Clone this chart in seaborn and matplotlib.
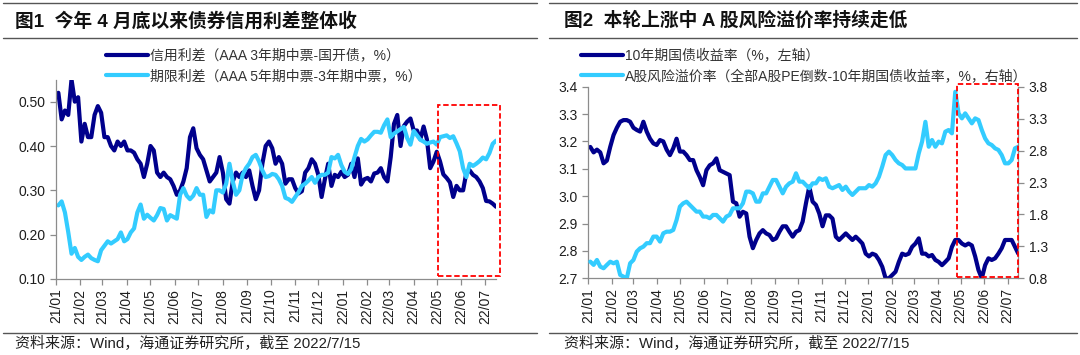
import pandas as pd
import matplotlib
matplotlib.use("Agg")
import matplotlib.pyplot as plt
import matplotlib.dates as mdates
from matplotlib.lines import Line2D
from matplotlib.patches import Rectangle
from matplotlib.ticker import FormatStrFormatter
import seaborn as sns

# 图1: 信用利差 / 期限利差 (%), 2021-01-04 .. 2022-07-15, evenly spaced samples
credit_spread = [
    0.52, 0.46, 0.48, 0.47, 0.55, 0.50, 0.51, 0.41, 0.45, 0.42,
    0.42, 0.47, 0.49, 0.475, 0.42, 0.42, 0.40, 0.39, 0.41, 0.40,
    0.41, 0.39, 0.39, 0.385, 0.37, 0.36, 0.33, 0.36, 0.40, 0.39,
    0.34, 0.33, 0.34, 0.33, 0.325, 0.31, 0.29, 0.30, 0.32, 0.35,
    0.42, 0.44, 0.395, 0.38, 0.37, 0.345, 0.32, 0.33, 0.34, 0.375,
    0.34, 0.28, 0.27, 0.32, 0.34, 0.33, 0.34, 0.33, 0.345, 0.31,
    0.28, 0.30, 0.36, 0.40, 0.41, 0.395, 0.36, 0.375,
    0.36, 0.315, 0.325, 0.325, 0.305, 0.293, 0.298, 0.34, 0.35, 0.37,
    0.36, 0.335, 0.285, 0.325, 0.36, 0.31, 0.335, 0.33, 0.342, 0.33,
    0.335, 0.36, 0.33, 0.372, 0.313, 0.325, 0.328, 0.32, 0.338, 0.34,
    0.35, 0.33, 0.32, 0.375, 0.45, 0.47, 0.40, 0.445, 0.455, 0.462,
    0.435, 0.435, 0.415, 0.444, 0.415, 0.35, 0.365, 0.387, 0.365, 0.336,
    0.328, 0.318, 0.285, 0.31, 0.30, 0.30, 0.34, 0.345, 0.335, 0.33,
    0.32, 0.305, 0.276, 0.275, 0.27, 0.263,
]
term_spread = [
    0.266, 0.275, 0.25, 0.206, 0.157, 0.17, 0.15, 0.143, 0.15, 0.155,
    0.147, 0.143, 0.14, 0.165, 0.175, 0.185, 0.18, 0.185, 0.19, 0.205,
    0.185, 0.19, 0.205, 0.214, 0.25, 0.268, 0.236, 0.245, 0.238, 0.232,
    0.244, 0.26, 0.258, 0.232, 0.244, 0.24, 0.236, 0.29, 0.305, 0.288,
    0.28, 0.288, 0.305, 0.29, 0.29, 0.24, 0.255, 0.25, 0.30, 0.30,
    0.295, 0.315, 0.36, 0.32, 0.29, 0.30, 0.335, 0.35, 0.36, 0.375,
    0.38, 0.365, 0.345, 0.33, 0.332, 0.337, 0.335, 0.325,
    0.31, 0.283, 0.28, 0.274, 0.285, 0.296, 0.31, 0.315, 0.322, 0.33,
    0.317, 0.33, 0.335, 0.335, 0.34, 0.375, 0.372, 0.38, 0.357, 0.342,
    0.337, 0.348, 0.375, 0.40, 0.416, 0.41, 0.415, 0.424, 0.432, 0.432,
    0.43, 0.447, 0.46, 0.42, 0.428, 0.433, 0.438, 0.443, 0.418, 0.403,
    0.434, 0.424, 0.414, 0.41, 0.405, 0.408, 0.41, 0.403, 0.42, 0.422,
    0.424, 0.418, 0.422, 0.406, 0.388, 0.35, 0.33, 0.36, 0.355, 0.36,
    0.366, 0.374, 0.37, 0.384, 0.405, 0.412,
]

# 图2: 10年期国债收益率 (左轴) / A股风险溢价率 (右轴)
bond_yield = [
    3.18, 3.16, 3.17, 3.16, 3.12, 3.13, 3.18, 3.223, 3.25, 3.272,
    3.278, 3.278, 3.272, 3.25, 3.242, 3.236, 3.272, 3.236, 3.21, 3.193,
    3.187, 3.205, 3.2, 3.17, 3.15, 3.175, 3.21, 3.163, 3.163, 3.15,
    3.132, 3.132, 3.095, 3.07, 3.04, 3.095, 3.113, 3.12, 3.138, 3.095,
    3.089, 3.083, 3.077, 2.98, 2.974, 2.925, 2.943, 2.937, 2.852, 2.81,
    2.84, 2.864, 2.876, 2.864, 2.858, 2.84, 2.846, 2.87, 2.89, 2.89,
    2.87, 2.852, 2.87, 2.876, 2.907, 2.974, 3.035,
    2.98, 2.968, 2.937, 2.89, 2.93, 2.93, 2.918, 2.852, 2.84, 2.852,
    2.864, 2.852, 2.84, 2.852, 2.84, 2.827, 2.79, 2.78, 2.79, 2.785,
    2.767, 2.742, 2.70, 2.70, 2.712, 2.724, 2.76, 2.79, 2.785, 2.79,
    2.815, 2.827, 2.846, 2.79, 2.79, 2.78, 2.785, 2.767, 2.76, 2.748,
    2.76, 2.773, 2.815, 2.84, 2.84, 2.827, 2.82, 2.827, 2.82, 2.78,
    2.73, 2.70, 2.748, 2.773, 2.767, 2.773, 2.79, 2.81, 2.84, 2.84,
    2.84, 2.815, 2.79,
]
risk_premium = [
    1.061, 1.01, 1.087, 0.983, 0.957, 1.01, 1.06, 1.035, 1.06, 0.853,
    0.827, 0.80, 1.035, 1.087, 1.218, 1.27, 1.296, 1.35, 1.35, 1.453,
    1.453, 1.375, 1.505, 1.53, 1.53, 1.557, 1.713, 1.922, 1.974, 2.0,
    1.948, 1.896, 1.844, 1.844, 1.766, 1.766, 1.74, 1.792, 1.792, 1.74,
    1.687, 1.766, 1.792, 1.896, 1.896, 1.896, 1.974, 2.157, 2.157, 2.13,
    2.0, 2.0, 2.13, 2.13, 2.235, 2.34, 2.34, 2.235, 2.13, 2.235,
    2.287, 2.313, 2.444, 2.313, 2.313, 2.26, 2.21,
    2.287, 2.287, 2.366, 2.34, 2.366, 2.235, 2.21, 2.235, 2.26, 2.183,
    2.235, 2.157, 2.105, 2.157, 2.21, 2.21, 2.21, 2.26, 2.235, 2.287,
    2.39, 2.55, 2.73, 2.783, 2.73, 2.652, 2.60, 2.574, 2.52, 2.52,
    2.52, 2.52, 2.757, 2.94, 3.25, 2.86, 2.965, 2.86, 2.94, 2.913,
    3.096, 3.122, 3.07, 3.72, 3.383, 3.304, 3.383, 3.304, 3.226, 3.304,
    3.278, 3.122, 2.99, 2.913, 2.887, 2.835, 2.81, 2.73, 2.60, 2.60,
    2.652, 2.835, 2.86,
]

labels_left = ["信用利差（AAA 3年期中票-国开债，%）", "期限利差（AAA 5年期中票-3年期中票，%）"]
labels_right = ["10年期国债收益率（%，左轴）", "A股风险溢价率（全部A股PE倒数-10年期国债收益率，%，右轴）"]
titles = ["图1  今年 4 月底以来债券信用利差整体收", "图2  本轮上涨中 A 股风险溢价率持续走低"]
source = "资料来源：Wind，海通证券研究所，截至 2022/7/15"

START, END = "2021-01-04", "2022-07-15"
XMIN, XMAX = pd.Timestamp("2021-01-01"), pd.Timestamp("2022-07-15")

DARK = "#00008C"
LIGHT = "#33CCFF"
GRAY = "#8C8C8C"
TXT = "#1E1E1E"
LW = 3.0

sns.set_theme(style="ticks")
plt.rcParams["font.family"] = ["Liberation Sans", "Noto Sans CJK SC"]
plt.rcParams["axes.unicode_minus"] = False


def frame(values):
    return pd.DataFrame({"date": pd.date_range(START, END, periods=len(values)),
                         "value": values})


def style(ax, sides):
    for s in ["top", "right", "left", "bottom"]:
        ax.spines[s].set_visible(s in sides)
        ax.spines[s].set_color(GRAY)
        ax.spines[s].set_linewidth(0.9)
    ax.tick_params(colors=GRAY, labelcolor=TXT, labelsize=10, length=4, width=0.9)
    ax.set_xlabel("")
    ax.set_ylabel("")


def date_axis(ax):
    ax.set_xlim(XMIN, XMAX)
    ax.xaxis.set_major_locator(mdates.MonthLocator())
    ax.xaxis.set_major_formatter(mdates.DateFormatter("%y/%m"))
    ax.tick_params(axis="x", rotation=90, pad=3)


fig = plt.figure(figsize=(10.8, 3.55), dpi=100)

# ---- left chart
ax1 = fig.add_axes([56 / 1080, 1 - 279 / 355, 440 / 1080, 199.5 / 355])
sns.lineplot(data=frame(credit_spread), x="date", y="value", ax=ax1, color=DARK, lw=LW)
sns.lineplot(data=frame(term_spread), x="date", y="value", ax=ax1, color=LIGHT, lw=LW)
ax1.set_ylim(0.10, 0.55)
ax1.set_yticks([0.1, 0.2, 0.3, 0.4, 0.5])
ax1.yaxis.set_major_formatter(FormatStrFormatter("%.2f"))
date_axis(ax1)
style(ax1, ["left", "bottom"])
ax1.add_patch(Rectangle((0.868, 0.015), 0.141, 0.857, transform=ax1.transAxes, fill=False,
                        ec="#FF0000", lw=1.3, ls=(0, (3, 1.5)), clip_on=False, zorder=5))

# ---- right chart
ax2 = fig.add_axes([588 / 1080, 1 - 278.3 / 355, 430.3 / 1080, 191.6 / 355])
ax3 = ax2.twinx()
sns.lineplot(data=frame(bond_yield), x="date", y="value", ax=ax2, color=DARK, lw=LW)
sns.lineplot(data=frame(risk_premium), x="date", y="value", ax=ax3, color=LIGHT, lw=LW)
ax2.set_ylim(2.7, 3.4)
ax2.set_yticks([2.7, 2.8, 2.9, 3.0, 3.1, 3.2, 3.3, 3.4])
ax2.yaxis.set_major_formatter(FormatStrFormatter("%.1f"))
ax3.set_ylim(0.8, 3.8)
ax3.set_yticks([0.8, 1.3, 1.8, 2.3, 2.8, 3.3, 3.8])
ax3.yaxis.set_major_formatter(FormatStrFormatter("%.1f"))
date_axis(ax2)
date_axis(ax3)
style(ax2, ["left", "bottom"])
style(ax3, ["right"])
ax3.add_patch(Rectangle((0.858, 0.005), 0.142, 1.007, transform=ax3.transAxes, fill=False,
                        ec="#FF0000", lw=1.3, ls=(0, (3, 1.5)), clip_on=False, zorder=5))

# ---- legends
for x0, labels in [(106, labels_left), (581, labels_right)]:
    handles = [Line2D([], [], color=DARK, lw=LW), Line2D([], [], color=LIGHT, lw=LW)]
    fig.legend(handles, labels, loc="upper left", bbox_to_anchor=(x0 / 1080, 1 - 48.5 / 355),
               frameon=False, fontsize=10, handlelength=3.0, handletextpad=0.2,
               labelspacing=0.45, borderpad=0, borderaxespad=0, labelcolor="#333333")

# ---- titles, rules, source
for x0, x1, tx, title in [(3, 537, 15, titles[0]), (549, 1077, 564, titles[1])]:
    for y in (3, 38, 333):
        fig.add_artist(Line2D([x0 / 1080, x1 / 1080], [1 - y / 355] * 2,
                              transform=fig.transFigure, color="#555555", lw=1))
    fig.text(tx / 1080, 1 - 21 / 355, title, fontsize=13.5, fontweight="bold",
             va="center", ha="left", color="#111111")
    fig.text(tx / 1080, 1 - 344 / 355, source, fontsize=10.8, va="center", ha="left",
             color="#222222")

fig.savefig("out.png", dpi=100)
